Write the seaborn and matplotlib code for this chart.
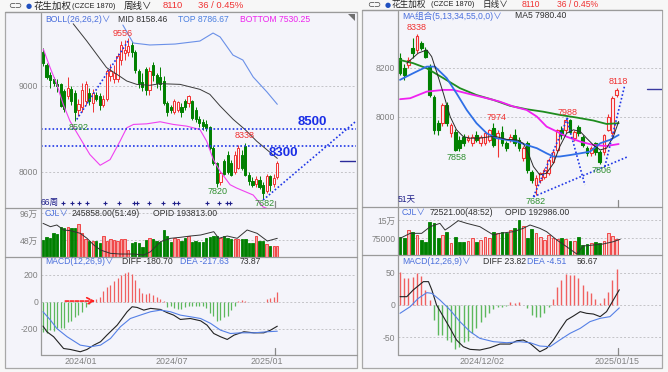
import matplotlib
matplotlib.use('Agg')
import matplotlib.pyplot as plt
import seaborn as sns
import numpy as np
import pandas as pd
from matplotlib.lines import Line2D
from matplotlib.patches import Rectangle, Polygon

# ---------------- data: left (weekly) ----------------
L_open = [9390, 9250, 9130, 9080, 9020, 9020, 8940, 8880, 8960, 8920, 8720, 8750, 8830, 8920, 8800, 8900,
          8880, 8780, 8850, 9120, 9080, 9080, 9300, 9380, 9400, 9480, 9390, 9180, 9050, 9200, 8950, 9240,
          9130, 9100, 9060, 8800, 8750, 8700, 8720, 8760, 8820, 8800, 8820, 8720, 8620, 8580, 8560, 8520,
          8280, 8100, 7880, 8130, 8200, 8100, 8000, 8050, 8200, 8300, 7970, 7900, 7860, 7910, 7850, 7780,
          7950, 7860, 7940]
L_high = [9440, 9270, 9160, 9110, 9080, 9040, 8960, 9100, 9000, 8950, 8850, 9030, 9060, 8980, 8960, 8930,
          8920, 8900, 9200, 9260, 9250, 9380, 9520, 9540, 9556, 9520, 9420, 9200, 9150, 9220, 9220, 9280,
          9150, 9220, 9120, 8830, 8780, 8850, 8830, 8800, 8850, 8900, 8840, 8750, 8650, 8620, 8600, 8540,
          8300, 8120, 8010, 8150, 8240, 8140, 8240, 8310, 8260, 8338, 8000, 7940, 7950, 7950, 7880, 7980,
          7960, 7980, 8130]
L_low = [9230, 9080, 8980, 9000, 8930, 8750, 8700, 8850, 8780, 8592, 8650, 8700, 8780, 8780, 8700, 8820,
         8720, 8750, 8830, 9060, 9030, 9050, 9250, 9300, 9350, 9340, 9150, 8980, 8940, 8900, 8900, 9060,
         8980, 8950, 8780, 8650, 8690, 8680, 8700, 8640, 8720, 8760, 8600, 8580, 8520, 8490, 8480, 8260,
         8080, 7820, 7850, 7960, 7980, 7950, 7980, 8030, 8020, 7950, 7850, 7820, 7820, 7800, 7682, 7760,
         7780, 7820, 7920]
L_close = [9270, 9110, 9070, 9040, 9000, 8770, 8730, 8980, 8820, 8700, 8790, 8950, 9020, 8820, 8920, 8850,
           8780, 8850, 9170, 9180, 9150, 9350, 9480, 9420, 9460, 9390, 9190, 9030, 8990, 8950, 9170, 9130,
           9030, 9020, 8800, 8700, 8720, 8820, 8810, 8700, 8760, 8880, 8630, 8620, 8570, 8530, 8510, 8280,
           8100, 7870, 7990, 7980, 8000, 7970, 8200, 8280, 8050, 7970, 7890, 7850, 7920, 7830, 7750, 7950,
           7850, 7930, 8110]
L_vol = [48, 54, 52, 60, 58, 72, 70, 71, 69, 69, 76, 60, 49, 46, 47, 46, 43, 56, 46, 49, 48, 46, 50, 50,
         30, 42, 44, 42, 35, 48, 52, 50, 47, 45, 66, 56, 45, 52, 49, 46, 52, 55, 45, 47, 45, 45, 52, 53,
         55, 55, 52, 55, 52, 49, 50, 50, 49, 50, 43, 43, 56, 47, 46, 41, 38, 38, 38]
L_hist = [-222, -230, -210, -218, -196, -192, -195, -152, -140, -116, -95, -78, -36, -14, -2, 20, 35, 80,
          110, 124, 150, 175, 200, 215, 217, 205, 160, 105, 65, 55, 62, 52, 35, 18, 2, -37, -33, -44, -52,
          -56, -38, -29, -28, -28, -32, -33, -45, -80, -108, -145, -136, -111, -105, -58, -28, 5, 15, 6, 1,
          -4, -5, -5, 0, 22, 25, 35, 74]
# BOLL lines (x = week index, y = price)
MID_x = [8.5, 12.3, 17.9, 20.8, 23.6, 26.4, 30.1, 33.0, 38.6, 44.2, 47.0, 49.9, 53.6, 56.9, 60.2, 63.0, 66.0]
MID_y = [9724, 9525, 9214, 9136, 9058, 9019, 9008, 9027, 9019, 8961, 8903, 8767, 8611, 8494, 8358, 8261, 8158]
TOP_x = [22.5, 25.4, 30.1, 37.2, 44.2, 47.9, 49.9, 53.5, 56.3, 59.2, 63.1, 66.0]
TOP_y = [9709, 9500, 9477, 9488, 9523, 9616, 9570, 9360, 9302, 9105, 8930, 8787]
BOT_x = [0.1, 2.0, 3.9, 5.7, 7.6, 10.4, 13.2, 16.1, 18.9, 21.7, 23.6, 25.5, 29.2, 33.0, 36.7, 40.5, 44.2,
         46.1, 48.0, 49.9, 52.7, 54.5, 59.2, 62.0, 66.0]
BOT_y = [9428, 9214, 9019, 8786, 8592, 8397, 8203, 8078, 8144, 8358, 8514, 8553, 8560, 8584, 8553, 8533,
         8494, 8358, 8144, 8008, 7852, 7814, 7732, 7593, 7530]
LVMA_x = [0, 2.1, 3.9, 5.8, 7.7, 10.5, 12.4, 14.3, 16.2, 19.0, 21.8, 25.6, 28.4, 30.3, 33.1, 35.9, 38.7,
          41.5, 44.4, 48.1, 49.5, 51.9, 54.7, 57.5, 60.3, 63.2, 66.0]
LVMA_y = [77.6, 71.7, 74.7, 65.8, 64.6, 59.9, 51, 39.1, 30.2, 24.3, 23.1, 23.1, 21.3, 27.2, 45, 51, 52.8,
          55.1, 56.9, 62.8, 51, 55.1, 51, 65.8, 59.9, 46.2, 51]
LDIFF_x = [0, 1.1, 3, 5.8, 7.7, 10.5, 12.4, 14.3, 16.2, 18, 20.9, 23.7, 25.1, 26.5, 28.4, 30.3, 33.1, 35,
           36.8, 38.7, 41.5, 44.4, 46.2, 48.1, 50, 51.9, 53.8, 56.6, 59.4, 62.2, 64.1, 66]
LDIFF_y = [-180, -222, -259, -346, -353, -370, -353, -321, -296, -247, -173, -74, -37, -42, -62, -49, -57,
           -81, -99, -131, -124, -141, -173, -235, -259, -279, -247, -222, -230, -230, -210, -181]
LDEA_x = [0, 2.1, 3.9, 6.8, 10.5, 13.3, 16.2, 19, 21.8, 24.6, 27.4, 30.3, 33.1, 35.9, 38.7, 41.5, 44.4,
          47.2, 50, 52.8, 55.6, 59.4, 63.2, 66]
LDEA_y = [-74, -136, -198, -259, -321, -333, -321, -272, -185, -124, -99, -74, -62, -74, -99, -111, -124,
          -160, -210, -235, -230, -230, -222, -218]
L_markers = [5.7, 8.1, 10.1, 12.3, 17.5, 21.5, 25.6, 26.6, 29.9, 33.9, 36.9, 38.1, 46.3, 49.6, 51.7, 52.7]

# ---------------- data: right (daily) ----------------
R_open = [8238, 8197, 8211, 8279, 8272, 8302, 8272, 8204, 8082, 7973, 7973, 8048, 7932, 7939, 7905, 7918,
          7905, 7891, 7925, 7891, 7891, 7905, 7952, 7912, 7939, 7891, 7905, 7925, 7905, 7830, 7891, 7775,
          7721, 7741, 7755, 7769, 7816, 7864, 7946, 7946, 7986, 7912, 7959, 7918, 7871, 7850, 7891, 7857,
          7857, 7946, 7932, 8088]
R_high = [8260, 8215, 8245, 8320, 8338, 8310, 8285, 8215, 8090, 7985, 8055, 8060, 7975, 7950, 7920, 7930,
          7925, 7930, 7940, 7925, 7940, 7950, 7974, 7945, 7960, 7900, 7930, 7950, 7915, 7880, 7900, 7780,
          7760, 7775, 7790, 7830, 7865, 7950, 7960, 7988, 7990, 7945, 7965, 7925, 7880, 7880, 7895, 7865,
          7930, 8010, 8085, 8118]
R_low = [8170, 8150, 8200, 8240, 8260, 8270, 8240, 8080, 7930, 7925, 7960, 7960, 7915, 7858, 7860, 7880,
         7895, 7880, 7895, 7880, 7885, 7895, 7875, 7837, 7880, 7860, 7895, 7880, 7860, 7820, 7770, 7730,
         7682, 7730, 7745, 7760, 7810, 7855, 7910, 7935, 7930, 7900, 7920, 7875, 7840, 7840, 7845, 7806,
         7845, 7940, 7925, 8080]
R_close = [8177, 8170, 8231, 8258, 8327, 8279, 8245, 8088, 7946, 7946, 8048, 7973, 7966, 7864, 7870, 7891,
           7912, 7918, 7905, 7918, 7932, 7946, 7884, 7932, 7891, 7871, 7918, 7891, 7871, 7871, 7782, 7741,
           7748, 7769, 7782, 7823, 7857, 7946, 7925, 7986, 7939, 7939, 7932, 7884, 7850, 7871, 7857, 7816,
           7925, 8000, 8075, 8110]
R_vol = [77900, 73600, 108300, 101400, 87500, 66700, 59700, 143000, 136100, 73600, 87500, 101400, 52800,
         77800, 59700, 59700, 62500, 73600, 59700, 66700, 80500, 73600, 101400, 94400, 101400, 94400,
         108300, 115300, 150000, 125000, 73600, 111100, 94400, 80500, 66700, 87500, 73600, 69400, 73600,
         69400, 63900, 63900, 80500, 45800, 48600, 52800, 59700, 52800, 63900, 94400, 83300, 72521]
R_hist = [52, 41.7, 41.7, 44.3, 49.5, 45.3, 23.4, 7.8, -23.5, -46.9, -46.9, -54.7, -57.3, -68.8, -65.1,
          -57.3, -55.8, -44.3, -36.5, -26, -18.2, -13, -6.8, -3.6, -2.6, -1.5, 5.2, 2.6, 5.2, 0, -5.2,
          -15.6, -18.2, -18.2, -13, -3.6, 8.9, 28.6, 39, 48.4, 46.9, 46.9, 41.7, 31.3, 22.4, 18.2, 8.9,
          2.6, 10.4, 20.8, 39, 56.67]
MA5_x = [1.6, 4.3, 6.3, 7.45, 8.6, 10.2, 11.8, 13.3, 14.9, 16.5, 18.8, 21.2, 22.7, 25.1, 27.5, 29, 30.2,
         31.4, 32.9, 34.5, 36.1, 37.6, 39.2, 40.8, 42.4, 43.9, 45.5, 47.1, 48.6, 50.2, 51.45]
MA5_y = [8218, 8259, 8272, 8245, 8184, 8095, 8000, 7946, 7918, 7912, 7912, 7918, 7918, 7907, 7905, 7891,
         7850, 7796, 7762, 7769, 7809, 7878, 7932, 7946, 7939, 7912, 7884, 7864, 7871, 7918, 7980]
MA13_x = [0, 3.1, 6.3, 8.2, 11, 13.3, 15.7, 18, 20.4, 22.7, 25.1, 27.5, 29.8, 32.2, 34.5, 36.1, 37.6, 40,
          42.4, 44.7, 47.1, 49.4, 51.45]
MA13_y = [8150, 8177, 8204, 8204, 8157, 8095, 8027, 7973, 7932, 7912, 7905, 7898, 7884, 7871, 7850, 7837,
          7837, 7843, 7850, 7857, 7891, 7905, 7925]
MA34_x = [0, 2.4, 6.3, 10.2, 12.5, 15.7, 20.4, 23.5, 26.7, 29.8, 32.2, 34.5, 36.9, 39.2, 42.4, 45.5, 48.6,
          51.45]
MA34_y = [8071, 8075, 8102, 8109, 8109, 8095, 8075, 8061, 8041, 8027, 8000, 7959, 7939, 7918, 7898, 7884,
          7880, 7888]
MA55_x = [0, 3.1, 6.3, 10.2, 14.1, 18, 22, 25.9, 29.8, 33.7, 37.6, 41.6, 45.5, 48.6, 51.45]
MA55_y = [8231, 8218, 8197, 8157, 8116, 8088, 8068, 8044, 8030, 8020, 8007, 7996, 7984, 7970, 7973]
RVMA_x = [0, 2.4, 5.1, 7.1, 9.4, 10.6, 11.8, 13.7, 15.7, 18.8, 22, 23.5, 26.7, 29, 30.6, 32.9, 34.5, 36.9,
          39.2, 41.6, 43.1, 45.5, 47.8, 50.2, 51.8]
RVMA_y = [73600, 94400, 94400, 122200, 136100, 108300, 122200, 147200, 136100, 122200, 87500, 94400,
          101400, 115300, 129200, 115300, 101400, 66700, 38900, 8300, 41700, 45800, 50000, 59700, 69400]
RDIFF_x = [0, 1.6, 3.1, 5.5, 6.7, 7.5, 8.6, 10.2, 11.8, 13.3, 14.9, 16.5, 18.8, 21.2, 23.5, 25.9, 27.5,
           29, 30.6, 32.9, 34.5, 36.1, 37.6, 39.2, 40.8, 42.4, 43.9, 45.5, 47.1, 48.6, 50.2, 51.6]
RDIFF_y = [13, 13, 23.4, 36.5, 36.5, 23.4, 0, -18.2, -36.5, -54.7, -65.1, -69.3, -70.3, -66.7, -61, -61,
           -55.8, -54.7, -60, -73, -67.7, -54.7, -39.1, -23.5, -17.2, -10.4, -13, -14.1, -18.2, -10.4, 7.8,
           23.8]
RDEA_x = [0, 2.4, 4.3, 6.3, 7.5, 9.4, 11.8, 14.1, 16.5, 18.8, 22, 25.1, 28.2, 30.6, 32.9, 35.3, 37.6, 40,
          42.4, 44.7, 47.1, 49.4, 51.6]
RDEA_y = [-13, -2.6, 10.4, 19.3, 18.2, 7.8, -7.8, -26, -41.7, -52.1, -57.3, -58.9, -57.3, -58.9, -64.1,
          -65.1, -54.7, -44.3, -36.5, -26, -20.8, -18.2, -4.5]

# ---------------- style ----------------
W, H = 668, 372
sns.set_theme(style='white')
plt.rcParams['font.family'] = ['Liberation Sans', 'Noto Sans CJK SC', 'DejaVu Sans']

RED = '#f03232'
GREEN = '#008000'
BG = '#f4f4fa'
TICKC = '#808080'
GRIDC = '#c4c4c8'
BLUE_T = '#4a6fdc'
DARK = '#303030'
DOT = '#1f36e6'
FS = 6.2

fig = plt.figure(figsize=(W / 100, H / 100), dpi=100)
fig.patch.set_facecolor('#f7f7f7')


def fx(x):
    return x / W


def fy(y):
    return 1 - y / H


def ax_at(x0, y0, x1, y1):
    a = fig.add_axes([x0 / W, 1 - y1 / H, (x1 - x0) / W, (y1 - y0) / H])
    a.set_facecolor(BG)
    for s in a.spines.values():
        s.set_visible(False)
    a.set_xticks([])
    a.tick_params(axis='y', length=0, pad=2, labelsize=FS, labelcolor=TICKC)
    return a


def fline(x0, y0, x1, y1, color='#9a9a9a', lw=0.9, **kw):
    fig.add_artist(Line2D([fx(x0), fx(x1)], [fy(y0), fy(y1)], color=color, lw=lw,
                          transform=fig.transFigure, **kw))


def ftext(x, y, s, **kw):
    kw.setdefault('fontsize', FS)
    kw.setdefault('va', 'center')
    fig.text(fx(x), fy(y), s, **kw)


def grid(a, vals):
    for v in vals:
        a.axhline(v, color=GRIDC, lw=0.7, ls=(0, (2, 2)), zorder=0)


# panel backgrounds
fig.add_artist(Rectangle((fx(5), fy(368)), (357 - 5) / W, (368 - 12) / H, transform=fig.transFigure,
                         facecolor=BG, edgecolor='#a8a8a8', lw=0.9, zorder=-5))
fig.add_artist(Rectangle((fx(362), fy(368)), (662 - 362) / W, (368 - 10) / H, transform=fig.transFigure,
                         facecolor=BG, edgecolor='#a8a8a8', lw=0.9, zorder=-5))


def draw_candles(a, o, h, l, c, width, lw):
    for i, (oo, hh, ll, cc) in enumerate(zip(o, h, l, c)):
        up = cc >= oo
        col = RED if up else GREEN
        lo, hi = min(oo, cc), max(oo, cc)
        a.vlines(i, ll, lo, color=col, lw=lw, zorder=3)
        a.vlines(i, hi, hh, color=col, lw=lw, zorder=3)
        hgt = max(hi - lo, 2)
        a.add_patch(Rectangle((i - width / 2, lo), width, hgt, facecolor='#fbf4f6' if up else GREEN,
                              edgecolor=col, lw=lw, zorder=4))


def sline(a, xs, ys, color, lw, z=5, **kw):
    df = pd.DataFrame({'x': xs, 'y': ys})
    sns.lineplot(data=df, x='x', y='y', ax=a, color=color, lw=lw, estimator=None, sort=False,
                 legend=False, zorder=z, **kw)
    a.set_xlabel('')
    a.set_ylabel('')


# ================= LEFT =================
LX = (-0.563, 88.17)
axL = ax_at(41, 13, 356, 208)
axL.set_xlim(*LX)
axL.set_ylim(7581, 9849)
grid(axL, [9000, 8000])
axL.set_yticks([9000, 8000])
axL.set_yticklabels(['9000', '8000'])
draw_candles(axL, L_open, L_high, L_low, L_close, 0.6, 0.7)
sline(axL, MID_x, MID_y, '#3a3a3a', 0.7)
sline(axL, TOP_x, TOP_y, '#6a90e8', 0.8)
sline(axL, BOT_x, BOT_y, '#f040f0', 0.8)
for lv in [8500, 8300]:
    axL.plot(LX, [lv, lv], color=DOT, lw=1.2, ls=(0, (1, 1.3)), zorder=6)
axL.plot([9.5, 24.0], [8611, 9525], color=DOT, lw=1.2, ls=(0, (1, 1.3)), zorder=6)
axL.plot([62.0, 87.9], [7674, 8581], color=DOT, lw=1.2, ls=(0, (1, 1.3)), zorder=6)
axL.plot([83.7, 88.2], [8128, 8128], color='#2a2a9a', lw=1.0, zorder=6)
axL.scatter(L_markers, [7639] * len(L_markers), marker='+', s=9, color='#20208a', lw=0.8, zorder=6)
axL.text(22.5, 9616, '9556', color=RED, fontsize=6.5, ha='center', va='center', zorder=7)
axL.text(10.1, 8523, '8592', color='#2f8f2f', fontsize=6.5, ha='center', va='center', zorder=7)
axL.text(56.9, 8419, '8338', color=RED, fontsize=6.5, ha='center', va='center', zorder=7)
axL.text(49.3, 7773, '7820', color='#2f8f2f', fontsize=6.5, ha='center', va='center', zorder=7)
axL.text(62.3, 7628, '7682', color='#2f8f2f', fontsize=6.5, ha='center', va='center', zorder=7)
axL.text(76.0, 8581, '8500', color='#1a2ee6', fontsize=9.5, fontweight='bold', ha='center', va='center', zorder=7)
axL.text(67.6, 8221, '8300', color='#1a2ee6', fontsize=9.5, fontweight='bold', ha='center', va='center', zorder=7)

axLV = ax_at(41, 208, 356, 257)
axLV.set_xlim(*LX)
axLV.set_ylim(17.8, 104.9)
grid(axLV, [96, 48])
axLV.set_yticks([96, 48])
axLV.set_yticklabels(['96万', '48万'])
for i, v in enumerate(L_vol):
    up = L_close[i] >= L_open[i]
    axLV.bar(i, v, width=0.66, bottom=0, color='#f5a0a0' if up else GREEN,
             edgecolor=RED if up else GREEN, lw=0.6, zorder=3)
sline(axLV, LVMA_x, LVMA_y, '#333333', 0.7)

axLM = ax_at(41, 257, 356, 355)
axLM.set_xlim(*LX)
axLM.set_ylim(-394, 331)
grid(axLM, [200, 0, -200])
axLM.set_yticks([200, 0, -200])
axLM.set_yticklabels(['200', '0', '-200'])
for i, v in enumerate(L_hist):
    axLM.vlines(i, 0, v, color='#f06060' if v >= 0 else '#5cb85c', lw=0.9, zorder=3)
sline(axLM, LDIFF_x, LDIFF_y, '#222222', 0.8)
sline(axLM, LDEA_x, LDEA_y, '#5580e6', 0.8)
axLM.annotate('', xy=(15.5, 5), xytext=(5.5, 5),
              arrowprops=dict(arrowstyle='->', color='#ff2020', lw=1.2, ls=(0, (2, 1))), zorder=7)

# ================= RIGHT =================
RX = (-0.47, 61.65)
axR = ax_at(398, 11, 662, 207)
axR.set_xlim(*RX)
axR.set_ylim(7631, 8431)
grid(axR, [8200, 8000])
axR.set_yticks([8200, 8000])
axR.set_yticklabels(['8200', '8000'])
draw_candles(axR, R_open, R_high, R_low, R_close, 0.68, 0.8)
sline(axR, MA55_x, MA55_y, '#1e8c1e', 1.3)
sline(axR, MA34_x, MA34_y, '#f020f0', 1.3)
sline(axR, MA13_x, MA13_y, '#2f6fe6', 1.3)
sline(axR, MA5_x, MA5_y, '#2a2a2a', 0.7)
for (x0, y0, x1, y1) in [(31.4, 7673, 39.6, 8000), (39.2, 7993, 43.5, 7721),
                         (31.4, 7673, 53.7, 7837), (48.2, 7796, 52.9, 8129)]:
    axR.plot([x0, x1], [y0, y1], color=DOT, lw=1.2, ls=(0, (1, 1.3)), zorder=6)
axR.plot([58.1, 61.6], [8113, 8113], color='#3a3aa0', lw=1.0, zorder=6)
axR.text(4.0, 8362, '8338', color=RED, fontsize=6.5, ha='center', va='center', zorder=7)
axR.text(13.4, 7835, '7858', color='#2f8f2f', fontsize=6.5, ha='center', va='center', zorder=7)
axR.text(22.8, 7995, '7974', color=RED, fontsize=6.5, ha='center', va='center', zorder=7)
axR.text(39.3, 8015, '7988', color=RED, fontsize=6.5, ha='center', va='center', zorder=7)
axR.text(51.3, 8142, '8118', color=RED, fontsize=6.5, ha='center', va='center', zorder=7)
axR.text(47.5, 7778, '7806', color='#2f8f2f', fontsize=6.5, ha='center', va='center', zorder=7)
axR.text(32.0, 7652, '7682', color='#2f8f2f', fontsize=6.5, ha='center', va='center', zorder=7)

axRV = ax_at(398, 207, 662, 255)
axRV.set_xlim(*RX)
axRV.set_ylim(4170, 204170)
grid(axRV, [150000, 75000])
axRV.set_yticks([150000, 75000])
axRV.set_yticklabels(['15万', '75000'])
for i, v in enumerate(R_vol):
    up = R_close[i] >= R_open[i]
    axRV.bar(i, v, width=0.7, bottom=0, color='#f8c0c0' if up else GREEN,
             edgecolor=RED if up else GREEN, lw=0.6, zorder=3)
sline(axRV, RVMA_x, RVMA_y, '#333333', 0.7)

axRM = ax_at(398, 255, 662, 355)
axRM.set_xlim(*RX)
axRM.set_ylim(-78.1, 78.1)
grid(axRM, [50, 0, -50])
axRM.set_yticks([50, 0, -50])
axRM.set_yticklabels(['50', '0', '-50'])
for i, v in enumerate(R_hist):
    axRM.vlines(i, 0, v, color='#f06060' if v >= 0 else '#5cb85c', lw=1.0, zorder=3)
sline(axRM, RDIFF_x, RDIFF_y, '#222222', 0.8)
sline(axRM, RDEA_x, RDEA_y, '#5580e6', 0.8)

# ================= frames / separators =================
fline(5, 12, 357, 12)
fline(41, 13, 41, 355)
fline(5, 208, 357, 208)
fline(5, 257, 357, 257)
fline(41, 355, 357, 355)
fline(362, 10, 662, 10)
fline(398, 11, 398, 355)
fline(362, 207, 662, 207)
fline(362, 255, 662, 255)
fline(398, 355, 662, 355)
fline(275, 201, 275, 207, color='#888888')
fline(275, 348, 275, 355, color='#888888')
fline(618, 200, 618, 207, color='#888888')
fline(618, 348, 618, 355, color='#888888')
fig.add_artist(Polygon([[fx(348), fy(14)], [fx(355), fy(14)], [fx(355), fy(21)]], closed=True,
                       transform=fig.transFigure, facecolor='#707070', edgecolor='none'))

# ================= texts =================
# headers
for dx, dy, per, fs in [(0, 6, '周线', 6.8), (359, 4.6, '日线', 6.2)]:
    ftext(8 + dx, dy, '⊂⊃', color='#404040', fontsize=6, family=['DejaVu Sans'])
    ftext(26 + dx, dy, '●', color='#2050c0', fontsize=5, family=['DejaVu Sans'])
    ftext(33 + dx, dy, '花生加权', color='#222222', fontsize=fs)
    ftext(72 + dx, dy, '(CZCE 1870)', color='#222222', fontsize=5.3)
    ftext(124 + dx, dy, per + '∨', color='#222222', fontsize=fs)
    ftext(163 + dx, dy, '8110', color=RED, fontsize=fs)
    ftext(198 + dx, dy, '36 / 0.45%', color=RED, fontsize=fs)

# legends
ftext(45, 20, 'BOLL(26,26,2)∨', color=BLUE_T)
ftext(118, 20, 'MID 8158.46', color=DARK)
ftext(178, 20, 'TOP 8786.67', color='#4a7fe0')
ftext(240, 20, 'BOTTOM 7530.25', color='#ee22ee')
ftext(402, 16, 'MA组合(5,13,34,55,0,0)∨', color=BLUE_T)
ftext(515, 16, 'MA5 7980.40', color=DARK)
ftext(45, 213, 'CJL∨', color=BLUE_T)
ftext(72, 213, '245858.00(51:49)', color=DARK)
ftext(153, 213, 'OPID 193813.00', color=DARK)
ftext(402, 212, 'CJL∨', color=BLUE_T)
ftext(430, 212, '72521.00(48:52)', color=DARK)
ftext(505, 212, 'OPID 192986.00', color=DARK)
ftext(45, 262, 'MACD(12,26,9)∨', color=BLUE_T)
ftext(122, 262, 'DIFF -180.70', color=DARK)
ftext(180, 262, 'DEA -217.63', color=BLUE_T)
ftext(240, 262, '73.87', color=DARK)
ftext(402, 262, 'MACD(12,26,9)∨', color=BLUE_T)
ftext(483, 262, 'DIFF 23.82', color=DARK)
ftext(527, 262, 'DEA -4.51', color=BLUE_T)
ftext(577, 262, '56.67', color=DARK)
ftext(41, 202, '66周', color='#20208a', fontsize=6.2)
ftext(398, 200, '51天', color='#20208a', fontsize=6.2)

# dates
for x, s in [(81, '2024/01'), (172, '2024/07'), (267, '2025/01'), (482, '2024/12/02'), (617, '2025/01/15')]:
    ftext(x, 362, s, color=TICKC, fontsize=6.4, ha='center')

fig.savefig('out.png', dpi=100, facecolor=fig.get_facecolor())
